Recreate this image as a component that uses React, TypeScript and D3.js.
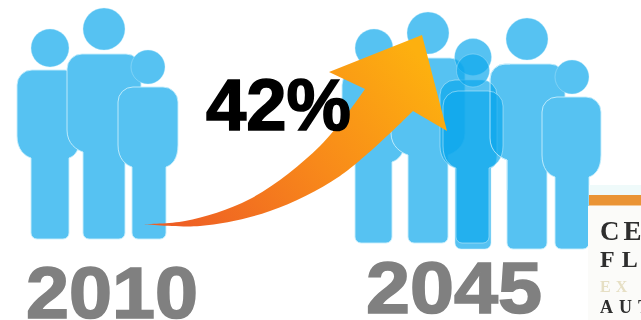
import React from "react";
import * as d3 from "d3";

const years = ["2010", "2045"];
const growthLabel = "42%";
const logoLines = ["CE", "FL", "EX", "AUT"];

type Figure = {
  head: [number, number, number];
  torso: [number, number, number, number];
  legs: [number, number, number];
};

// Family standing on the left
const familyBefore: Figure[] = [
  { head: [50, 48, 19], torso: [17, 80, 70, 158], legs: [31, 69, 239] },
  { head: [104, 29, 21], torso: [67, 141, 54, 152], legs: [83, 125, 239] },
  { head: [148, 67, 17], torso: [118, 178, 87, 167], legs: [132, 166, 239] },
];

// Larger group on the right, drawn behind the highlighted person
const familyAfter: Figure[] = [
  { head: [374, 48, 19], torso: [342, 405, 70, 162], legs: [355, 392, 243] },
  { head: [428, 33, 21], torso: [391, 465, 58, 155], legs: [408, 448, 243] },
];
const familyAfterFront: Figure[] = [
  { head: [527, 39, 21], torso: [490, 565, 64, 160], legs: [507, 547, 249] },
  { head: [572, 77, 17], torso: [542, 601, 97, 177], legs: [555, 589, 249] },
];
// Two translucent layers whose overlap reads darker
const highlighted: Figure[] = [
  { head: [473, 57, 18.5], torso: [440, 497, 80, 168], legs: [455, 491, 249] },
  { head: [473, 70.5, 16.5], torso: [443, 503, 91, 168], legs: [456, 489, 243] },
];

function bodyPath({ torso: [x0, x1, top, bottom], legs: [lx0, lx1, foot] }: Figure) {
  const p = d3.path();
  const rt = 15;
  const drop = 22;
  const rf = 6;
  p.moveTo(x0 + rt, top);
  p.lineTo(x1 - rt, top);
  p.arcTo(x1, top, x1, top + rt, rt);
  p.lineTo(x1, bottom - drop);
  p.bezierCurveTo(x1, bottom - 8, lx1 + 6, bottom - 2, lx1, bottom);
  p.lineTo(lx1, foot - rf);
  p.arcTo(lx1, foot, lx1 - rf, foot, rf);
  p.lineTo(lx0 + rf, foot);
  p.arcTo(lx0, foot, lx0, foot - rf, rf);
  p.lineTo(lx0, bottom);
  p.bezierCurveTo(lx0 - 6, bottom - 2, x0, bottom - 8, x0, bottom - drop);
  p.lineTo(x0, top + rt);
  p.arcTo(x0, top, x0 + rt, top, rt);
  p.closePath();
  return p.toString();
}

function Person({ figure, fill, opacity = 1 }: { figure: Figure; fill: string; opacity?: number }) {
  const [cx, cy, r] = figure.head;
  return (
    <g fillOpacity={opacity}>
      <circle cx={cx} cy={cy} r={r} fill={fill} stroke="#c8eefc" strokeWidth={0.8} strokeOpacity={0.45} />
      <path d={bodyPath(figure)} fill={fill} stroke="#c8eefc" strokeWidth={1} strokeOpacity={opacity < 1 ? 0.55 : 0.9} />
    </g>
  );
}

// Upper and lower edges of the growth arrow, tail to head
const upperEdge: [number, number][] = [[143, 224], [185, 221], [250, 199], [320, 146], [365, 89]];
const lowerEdge: [number, number][] = [[413, 111], [340, 176], [270, 211], [200, 226], [143, 224]];
const barbs: [number, number][] = [[329, 72], [422, 35], [447, 131]];

function arrowPath() {
  const curve = d3.line().curve(d3.curveCatmullRom.alpha(0.5));
  const upper = curve(upperEdge) as string;
  const lower = (curve(lowerEdge) as string).replace(/^M/, "L");
  const head = barbs.map((b) => `L${b[0]},${b[1]}`).join("");
  return `${upper}${head}${lower}Z`;
}

// Letterhead lines: size, spacing, baseline and ink for each row
const logoSizes = [27, 24, 16, 18];
const logoSpacing = [4, 7, 5, 6];
const logoBaselines = [240, 267, 292, 313];
const logoInk = ["#2e2e2e", "#2e2e2e", "#e6dfc4", "#2e2e2e"];

export default function App() {
  return (
    <svg width={641} height={320} style={{ position: "absolute", left: 0, top: 0, background: "#fff" }}>
      <defs>
        <linearGradient id="growth" gradientUnits="userSpaceOnUse" x1={200} y1={250} x2={430} y2={70}>
          <stop offset="0" stopColor="#ee5f24" />
          <stop offset="0.5" stopColor="#f8891a" />
          <stop offset="1" stopColor="#fdb00f" />
        </linearGradient>
        <filter id="soft" x="-10%" y="-10%" width="120%" height="120%">
          <feGaussianBlur stdDeviation="0.7" />
        </filter>
        <clipPath id="nearHighlight">
          <rect x={480} y={60} width={30} height={130} />
        </clipPath>
      </defs>

      {familyBefore.map((f, i) => <Person key={i} figure={f} fill="#56c2f2" />)}
      {familyAfter.map((f, i) => <Person key={i} figure={f} fill="#56c2f2" />)}
      {familyAfterFront.map((f, i) => <Person key={i} figure={f} fill="#56c2f2" />)}
      {highlighted.map((f, i) => <Person key={i} figure={f} fill="rgb(14,168,236)" opacity={0.7} />)}
      {/* the neighbour's edge stays visible through the highlighted person */}
      <path d={bodyPath(familyAfterFront[0])} fill="none" stroke="#c8eefc" strokeWidth={1} strokeOpacity={0.8} clipPath="url(#nearHighlight)" />

      <path d={arrowPath()} fill="url(#growth)" />

      <g fontFamily="Liberation Sans" fontWeight={700}>
        <text x={206} y={130} fontSize={72} textLength={145} lengthAdjust="spacingAndGlyphs" fill="#000" stroke="#000" strokeWidth={1.6}>{growthLabel}</text>
        <text x={26} y={318} fontSize={72} textLength={172} lengthAdjust="spacingAndGlyphs" fill="#808080" stroke="#808080" strokeWidth={1.6}>{years[0]}</text>
        <text x={366} y={313} fontSize={72} textLength={176} lengthAdjust="spacingAndGlyphs" fill="#808080" stroke="#808080" strokeWidth={1.6}>{years[1]}</text>
      </g>

      <g>
        <rect x={589} y={185} width={52} height={10} fill="#effafa" />
        <rect x={588} y={206} width={53} height={114} fill="#fbfbf9" />
      </g>
      <g filter="url(#soft)">
        <rect x={589} y={195} width={56} height={10.5} fill="#ea9434" />
        {logoLines.map((line, i) => (
          <text
            key={line}
            x={600}
            y={logoBaselines[i]}
            fontFamily="Liberation Serif"
            fontWeight={700}
            fontSize={logoSizes[i]}
            letterSpacing={logoSpacing[i]}
            fill={logoInk[i]}
          >
            {line}
          </text>
        ))}
      </g>
    </svg>
  );
}
